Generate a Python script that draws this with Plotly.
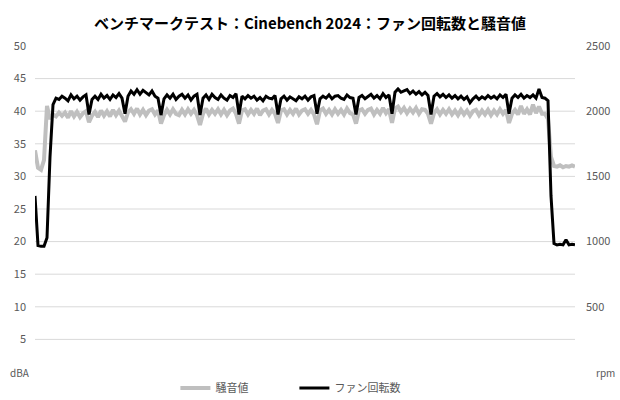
import plotly.graph_objects as go

# sample index (time axis, not labelled in the original)
fan_rpm = [
    1350, 970, 965, 965, 1030, 1650, 2050, 2100, 2090, 2115,
    2100, 2080, 2125, 2095, 2115, 2085, 2110, 2125, 1975, 2090,
    2115, 2090, 2130, 2100, 2120, 2090, 2125, 2105, 2135, 2100,
    1980, 2115, 2155, 2130, 2165, 2130, 2160, 2140, 2125, 2155,
    2115, 2100, 1970, 2095, 2125, 2100, 2130, 2090, 2115, 2130,
    2100, 2125, 2085, 2115, 2130, 1970, 2100, 2125, 2090, 2130,
    2105, 2090, 2125, 2100, 2085, 2120, 2105, 2135, 1975, 2115,
    2095, 2120, 2100, 2115, 2085, 2105, 2080, 2115, 2100, 2095,
    2120, 1975, 2095, 2115, 2085, 2110, 2095, 2080, 2110, 2095,
    2115, 2085, 2110, 2120, 1980, 2095, 2115, 2100, 2125, 2095,
    2115, 2120, 2100, 2090, 2125, 2105, 2100, 1975, 2105, 2120,
    2095, 2115, 2130, 2100, 2120, 2095, 2135, 2105, 2125, 1980,
    2145, 2170, 2145, 2155, 2165, 2135, 2155, 2130, 2150, 2125,
    2145, 2120, 1975, 2115, 2135, 2110, 2130, 2105, 2125, 2100,
    2120, 2095, 2115, 2090, 2110, 2065, 2095, 2115, 2090, 2110,
    2095, 2120, 2100, 2115, 2095, 2125, 2105, 2130, 1980, 2100,
    2125, 2105, 2130, 2100, 2120, 2105, 2125, 2100, 2170, 2105,
    2100, 2080, 1350, 985, 975, 980, 975, 1015, 975, 980, 975,
]

noise_dba = [
    34.0, 31.3, 31.0, 32.5, 40.8, 38.8, 39.5, 39.2, 39.8, 39.3,
    39.8, 39.0, 40.0, 39.2, 39.9, 39.1, 39.7, 40.0, 38.3, 39.3,
    39.9, 39.1, 40.1, 39.3, 40.0, 39.2, 40.2, 39.4, 40.1, 39.3,
    38.4, 39.8, 40.3, 39.6, 40.4, 39.5, 40.2, 39.4, 40.1, 40.3,
    39.5, 40.1, 38.1, 39.4, 40.2, 39.5, 40.3, 39.6, 39.4, 40.2,
    39.5, 40.3, 39.6, 40.2, 39.4, 37.9, 39.6, 40.4, 39.5, 40.2,
    39.6, 40.3, 39.5, 40.2, 39.4, 40.1, 40.4, 39.6, 38.1, 40.1,
    40.3, 39.5, 40.2, 39.6, 40.4, 39.4, 40.1, 40.3, 39.5, 40.2,
    39.6, 38.2, 40.1, 40.3, 39.5, 40.2, 39.6, 40.4, 39.5, 40.1,
    40.3, 39.6, 40.2, 39.5, 38.0, 40.1, 40.4, 39.6, 40.2, 39.5,
    40.3, 39.6, 40.2, 39.5, 40.4, 39.7, 39.5, 38.1, 40.1, 40.3,
    39.6, 40.2, 40.4, 39.5, 40.2, 39.6, 40.5, 39.7, 40.3, 38.2,
    40.4, 40.7, 39.9, 40.5, 39.7, 40.4, 39.8, 40.5, 39.6, 40.3,
    40.2, 39.6, 38.1, 39.7, 40.3, 39.5, 40.2, 39.6, 40.3, 39.5,
    40.1, 39.4, 40.2, 39.5, 40.1, 39.3, 40.0, 40.2, 39.4, 40.1,
    39.5, 40.2, 39.4, 40.1, 39.5, 40.3, 39.6, 40.2, 38.2, 39.6,
    40.2, 39.5, 40.8, 39.6, 40.3, 39.5, 41.0, 39.7, 40.7, 39.6,
    39.6, 38.8, 33.0, 31.6, 31.5, 31.7, 31.4, 31.6, 31.5, 31.7, 31.5,
]

samples = list(range(len(fan_rpm)))

dba_ticks = [5, 10, 15, 20, 25, 30, 35, 40, 45, 50]
rpm_ticks = [500, 1000, 1500, 2000, 2500]
grid_lines = [5, 10, 15, 20, 25, 30, 35, 40, 45]

FONT = "Noto Sans CJK JP"
LABEL = "#595959"

fig = go.Figure()

fig.add_trace(go.Scatter(
    x=samples, y=noise_dba, name="騒音値", mode="lines",
    line=dict(color="#bfbfbf", width=4), yaxis="y",
))
fig.add_trace(go.Scatter(
    x=samples, y=fan_rpm, name="ファン回転数", mode="lines",
    line=dict(color="#000000", width=3), yaxis="y2",
))

for g in grid_lines:
    fig.add_shape(type="line", xref="paper", yref="y", x0=0, x1=1, y0=g, y1=g,
                  line=dict(color="#d9d9d9", width=1), layer="below")

fig.update_layout(
    width=620, height=400,
    margin=dict(l=35, r=45, t=46, b=28, autoexpand=False),
    paper_bgcolor="white", plot_bgcolor="white",
    font=dict(family=FONT, size=11, color=LABEL),
    title=dict(
        text="<b>ベンチマークテスト：Cinebench 2024：ファン回転数と騒音値</b>",
        x=0.5, xanchor="center", y=0.94, yanchor="middle",
        font=dict(family=FONT, size=15, color="#000000"),
    ),
    xaxis=dict(range=[0, len(samples) - 1], visible=False),
    yaxis=dict(range=[0, 50], tickvals=dba_ticks, showgrid=False, zeroline=False,
               showline=False, ticks="", ticklabelstandoff=8, automargin=False,
               tickfont=dict(size=11, color=LABEL)),
    yaxis2=dict(range=[0, 2500], tickvals=rpm_ticks, overlaying="y", side="right",
                showgrid=False, zeroline=False, showline=False, ticks="",
                ticklabelstandoff=10, automargin=False,
                tickfont=dict(size=11, color=LABEL)),
    legend=dict(orientation="h", x=0.26, xanchor="left",
                yref="container", y=0.03, yanchor="middle",
                entrywidth=74, font=dict(size=11, color=LABEL),
                bgcolor="rgba(0,0,0,0)"),
    showlegend=True,
)

fig.add_annotation(text="dBA", xref="paper", yref="paper", x=-0.028, y=0,
                   xanchor="center", yanchor="middle", showarrow=False,
                   font=dict(size=10, color=LABEL))
fig.add_annotation(text="rpm", xref="paper", yref="paper", x=1.056, y=0,
                   xanchor="center", yanchor="middle", showarrow=False,
                   font=dict(size=10, color=LABEL))

fig.write_html("out.html", config={"displayModeBar": False},
               post_script="document.body.style.margin='0';")
